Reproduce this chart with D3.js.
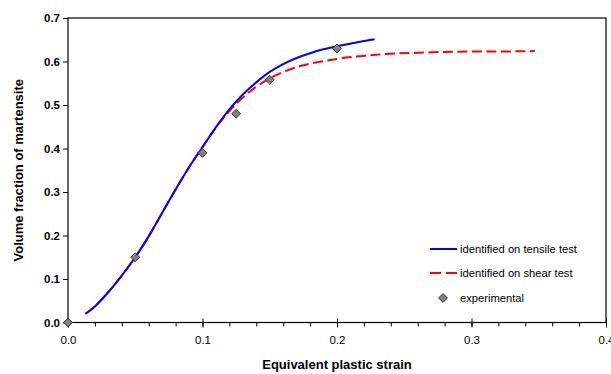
<!DOCTYPE html>
<html>
<head>
<meta charset="utf-8">
<script src="https://d3js.org/d3.v7.min.js"></script>
<style>
  body { margin: 0; background: #fff; }
  text { font-family: "Liberation Sans", Arial, sans-serif; fill: #000; }
</style>
</head>
<body>
<svg width="611" height="374"></svg>
<script>

// curve identified on tensile test (strain, fraction)
var tensileX = [0.013, 0.02, 0.03, 0.04, 0.05, 0.06, 0.07, 0.08, 0.09, 0.10, 0.11, 0.12, 0.13, 0.14, 0.15, 0.16, 0.17, 0.18, 0.19, 0.20, 0.21, 0.22, 0.228];
var tensileY = [0.020, 0.037, 0.070, 0.108, 0.150, 0.198, 0.252, 0.306, 0.357, 0.403, 0.449, 0.490, 0.524, 0.552, 0.576, 0.594, 0.608, 0.619, 0.628, 0.635, 0.641, 0.647, 0.651];

// curve identified on shear test
var shearX = [0.013, 0.02, 0.03, 0.04, 0.05, 0.06, 0.07, 0.08, 0.09, 0.10, 0.11, 0.12, 0.13, 0.14, 0.15, 0.16, 0.17, 0.18, 0.19, 0.20, 0.22, 0.24, 0.26, 0.28, 0.30, 0.32, 0.347];
var shearY = [0.020, 0.037, 0.070, 0.108, 0.150, 0.198, 0.252, 0.306, 0.357, 0.404, 0.448, 0.486, 0.517, 0.542, 0.561, 0.576, 0.587, 0.595, 0.601, 0.606, 0.613, 0.618, 0.620, 0.622, 0.623, 0.623, 0.624];

// experimental points
var expX = [0.0, 0.05, 0.10, 0.125, 0.15, 0.20];
var expY = [0.0, 0.15, 0.39, 0.48, 0.558, 0.63];

var xTicks = [0, 0.1, 0.2, 0.3, 0.4];
var yTicks = [0, 0.1, 0.2, 0.3, 0.4, 0.5, 0.6, 0.7];
var legendLabels = ["identified on tensile test", "identified on shear test", "experimental"];

var svg = d3.select("svg");
var pL = 68, pR = 606, pT = 18, pB = 322.5;

var x = d3.scaleLinear().domain([0, 0.4]).range([pL, pR]);
var y = d3.scaleLinear().domain([0, 0.7]).range([pB, pT]);

// plot frame
svg.append("rect")
  .attr("x", pL).attr("y", pT)
  .attr("width", pR - pL).attr("height", pB - pT)
  .attr("fill", "none").attr("stroke", "#000").attr("stroke-width", 1.2);

// y axis
var yAxis = svg.append("g")
  .attr("transform", "translate(" + pL + ",0)")
  .call(d3.axisLeft(y).tickValues(yTicks).tickFormat(d3.format(".1f")).tickSize(5).tickPadding(3));
yAxis.select(".domain").remove();
yAxis.selectAll("line").attr("stroke", "#000");
yAxis.selectAll("text")
  .style("font-family", "Liberation Sans, Arial, sans-serif")
  .style("font-size", "11.5px").style("font-weight", "bold");

// x axis minor ticks
var xMinor = d3.range(0, 0.4001, 0.02);
svg.append("g")
  .attr("transform", "translate(0," + pB + ")")
  .call(d3.axisBottom(x).tickValues(xMinor).tickFormat("").tickSize(4))
  .call(function(g) { g.select(".domain").remove(); g.selectAll("line").attr("stroke", "#000"); });

// x axis major ticks (crossing)
var xAxis = svg.append("g")
  .attr("transform", "translate(0," + pB + ")")
  .call(d3.axisBottom(x).tickValues(xTicks).tickFormat(d3.format(".1f")).tickSize(5).tickPadding(8));
xAxis.select(".domain").remove();
xAxis.selectAll("line").attr("stroke", "#000").attr("y1", -4);
xAxis.selectAll("text")
  .style("font-family", "Liberation Sans, Arial, sans-serif")
  .style("font-size", "11.5px");

// axis titles
svg.append("text")
  .attr("x", (pL + pR) / 2).attr("y", 369)
  .attr("text-anchor", "middle")
  .style("font-size", "13px").style("font-weight", "bold")
  .text("Equivalent plastic strain");

svg.append("text")
  .attr("transform", "translate(23," + ((pT + pB) / 2) + ") rotate(-90)")
  .attr("text-anchor", "middle")
  .style("font-size", "13px").style("font-weight", "bold")
  .text("Volume fraction of martensite");

var line = d3.line()
  .x(function(d) { return x(d[0]); })
  .y(function(d) { return y(d[1]); })
  .curve(d3.curveMonotoneX);

svg.append("path")
  .datum(d3.zip(shearX, shearY))
  .attr("d", line)
  .attr("fill", "none").attr("stroke", "#ff0000")
  .attr("stroke-width", 2).attr("stroke-dasharray", "10,4.5");

svg.append("path")
  .datum(d3.zip(tensileX, tensileY))
  .attr("d", line)
  .attr("fill", "none").attr("stroke", "#0000ff")
  .attr("stroke-width", 2);

var diamond = d3.symbol().type(d3.symbolDiamond2).size(50);

svg.selectAll("path.exp")
  .data(d3.zip(expX, expY))
  .enter().append("path")
  .attr("class", "exp")
  .attr("d", diamond)
  .attr("transform", function(d) { return "translate(" + x(d[0]) + "," + y(d[1]) + ")"; })
  .attr("fill", "#808080").attr("stroke", "#333").attr("stroke-width", 1);

// legend
var leg = svg.append("g");
var rowY = [249, 273, 298];
leg.append("line").attr("x1", 430).attr("x2", 457).attr("y1", rowY[0]).attr("y2", rowY[0])
  .attr("stroke", "#0000ff").attr("stroke-width", 2);
leg.append("line").attr("x1", 430).attr("x2", 457).attr("y1", rowY[1]).attr("y2", rowY[1])
  .attr("stroke", "#ff0000").attr("stroke-width", 2).attr("stroke-dasharray", "11,5");
leg.append("path").attr("d", diamond)
  .attr("transform", "translate(443," + rowY[2] + ")")
  .attr("fill", "#808080").attr("stroke", "#333").attr("stroke-width", 1);
leg.selectAll("text.lab")
  .data(legendLabels)
  .enter().append("text")
  .attr("class", "lab")
  .attr("x", 460)
  .attr("y", function(d, i) { return rowY[i] + 4; })
  .style("font-size", "11.2px")
  .text(function(d) { return d; });

</script>
</body>
</html>
